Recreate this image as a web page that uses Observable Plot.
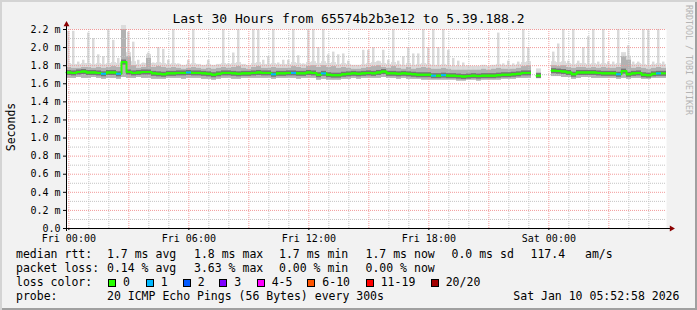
<!DOCTYPE html>
<html>
<head>
<meta charset="utf-8">
<script src="https://cdn.jsdelivr.net/npm/d3@7"></script>
<script src="https://cdn.jsdelivr.net/npm/@observablehq/plot@0.6"></script>
<style>
  body { margin: 0; background: #f2f2f2; }
  #wrap { position: relative; width: 697px; height: 310px; background: #f2f2f2; overflow: hidden;
          font-family: "DejaVu Sans Mono", monospace; color: #000;
          box-shadow: inset 2px 2px 0 #d4d4d4, inset -2px -2px 0 #a0a0a0; }
  #chart { position: absolute; left: 0; top: 0; }
  .t { position: absolute; white-space: pre; font-size: 11.5px; line-height: 14px; }
  .sq { position: absolute; width: 8px; height: 8px; box-sizing: border-box; border: 1px solid #000; }
</style>
</head>
<body>
<div id="wrap"><div id="chart"></div></div>
<script>
// ---------- data ----------
const title = "Last 30 Hours from 65574b2b3e12 to 5.39.188.2";
const yLabel = "Seconds";
const sideNote = "RRDTOOL / TOBI OETIKER";
// hours relative to Fri 00:00; graph spans Thu 23:52:58 .. Sat 05:52:58
const startHour = -7.05 / 60;
const endHour = startHour + 30;
const stepHours = 0.25; // one bucket = 15 minutes

// max ping (light smoke top), ms
const hi = [
  2.18,2.18,1.84,1.86,2.16,2.10,1.92,1.90,2.20,2.08,
  1.88,2.20,2.17,2.06,1.86,1.83,1.94,1.83,2.00,1.98,
  1.86,2.20,1.82,1.80,1.86,2.20,1.80,1.80,1.86,1.80,
  1.80,2.20,1.82,1.94,2.20,1.80,1.80,2.20,2.20,1.86,
  1.90,2.20,1.83,1.86,1.86,2.20,1.91,1.82,2.20,2.20,
  2.00,2.20,1.92,1.95,1.92,1.93,1.85,1.80,1.80,1.97,
  1.97,2.00,1.85,1.97,1.86,2.20,1.85,1.90,2.00,1.93,
  1.93,2.20,2.00,2.20,2.00,2.20,1.97,1.88,1.85,1.83,
  1.80,1.78,1.78,1.80,1.78,1.80,2.16,1.82,1.85,1.82,
  1.84,2.20,2.00,null,1.74,null,null,1.95,2.04,2.20,
  1.85,2.20,1.85,2.00,2.12,2.20,1.84,2.20,1.84,1.84,
  2.20,1.92,2.02,1.84,1.84,2.20,2.20,1.84,2.20,1.84
];
// upper dense smoke top, ms
const up = [
  1.78,1.77,1.77,1.78,1.78,1.77,1.78,1.77,1.78,1.79,
  1.78,2.20,1.90,1.80,1.77,1.78,1.88,1.78,1.79,1.78,
  1.77,1.78,1.77,1.76,1.77,1.78,1.77,1.76,1.77,1.76,
  1.77,1.78,1.77,1.78,1.79,1.77,1.76,1.78,1.79,1.77,
  1.77,1.78,1.77,1.77,1.77,1.79,1.78,1.77,1.79,1.80,
  1.78,1.80,1.78,1.79,1.77,1.78,1.77,1.76,1.76,1.77,
  1.78,1.79,1.80,1.78,1.77,1.79,1.77,1.76,1.78,1.76,
  1.77,1.78,1.77,1.76,1.76,1.77,1.76,1.75,1.75,1.75,
  1.75,1.75,1.75,1.76,1.75,1.76,1.77,1.76,1.76,1.76,
  1.77,1.79,1.80,null,1.72,null,null,1.80,1.79,1.80,
  1.78,1.77,1.78,1.78,1.77,1.78,1.77,1.78,1.77,1.77,
  1.78,1.90,1.86,1.77,1.78,1.77,1.76,1.77,1.78,1.77
];
// min ping (smoke bottom), ms
const lo = [
  1.66,1.66,1.67,1.66,1.66,1.67,1.66,1.65,1.66,1.66,
  1.65,1.67,1.66,1.66,1.67,1.66,1.66,1.65,1.65,1.65,
  1.66,1.66,1.66,1.65,1.66,1.66,1.66,1.65,1.65,1.64,
  1.65,1.66,1.66,1.65,1.65,1.66,1.66,1.66,1.66,1.66,
  1.66,1.65,1.66,1.66,1.66,1.66,1.65,1.66,1.66,1.66,
  1.64,1.65,1.64,1.64,1.64,1.65,1.65,1.66,1.65,1.66,
  1.66,1.66,1.66,1.67,1.66,1.66,1.65,1.66,1.65,1.65,
  1.65,1.64,1.64,1.64,1.64,1.64,1.64,1.64,1.63,1.63,
  1.64,1.64,1.63,1.64,1.64,1.64,1.64,1.65,1.65,1.65,
  1.66,1.66,1.66,null,1.67,null,null,1.68,1.68,1.67,
  1.67,1.65,1.66,1.67,1.67,1.66,1.66,1.66,1.66,1.66,
  1.65,1.66,1.65,1.66,1.66,1.65,1.65,1.66,1.66,1.66
];
// median rtt, ms
const med = [
  1.725,1.72,1.73,1.735,1.725,1.725,1.72,1.71,1.725,1.725,
  1.71,1.84,1.73,1.72,1.725,1.73,1.73,1.715,1.71,1.705,
  1.715,1.715,1.72,1.72,1.725,1.72,1.72,1.715,1.71,1.70,
  1.71,1.72,1.72,1.715,1.71,1.715,1.715,1.72,1.725,1.72,
  1.72,1.705,1.715,1.715,1.72,1.72,1.715,1.715,1.725,1.72,
  1.70,1.715,1.70,1.695,1.695,1.705,1.71,1.715,1.71,1.715,
  1.72,1.715,1.725,1.735,1.715,1.715,1.71,1.715,1.71,1.705,
  1.70,1.70,1.70,1.69,1.69,1.695,1.69,1.69,1.685,1.68,
  1.685,1.69,1.685,1.69,1.69,1.69,1.695,1.70,1.70,1.705,
  1.71,1.72,1.72,null,1.69,null,null,1.745,1.74,1.735,
  1.725,1.705,1.725,1.725,1.725,1.725,1.72,1.715,1.715,1.715,
  1.705,1.74,1.705,1.715,1.72,1.70,1.695,1.71,1.715,1.715
];
// lost pings out of 20
const loss = [
  0,0,0,0,0,0,0,1,0,0,
  1,0,0,0,0,0,0,0,0,0,
  0,0,0,0,1,0,0,0,0,0,
  0,0,0,0,0,0,0,0,0,0,
  0,1,0,0,0,1,0,0,0,0,
  0,1,0,0,0,0,0,0,0,0,
  0,0,0,0,0,0,0,0,0,0,
  0,0,0,1,0,1,0,0,0,0,
  0,0,0,0,0,0,0,0,0,0,
  0,0,0,null,0,null,null,0,0,0,
  0,0,0,0,0,0,0,0,0,0,
  1,0,0,0,0,0,0,0,1,0
];

const yTicks = [0, 0.2, 0.4, 0.6, 0.8, 1.0, 1.2, 1.4, 1.6, 1.8, 2.0, 2.2];
const yTickLabels = ["0.0","0.2 m","0.4 m","0.6 m","0.8 m","1.0 m","1.2 m","1.4 m","1.6 m","1.8 m","2.0 m","2.2 m"];
const xTicks = [0, 6, 12, 18, 24];
const xTickLabels = ["Fri 00:00","Fri 06:00","Fri 12:00","Fri 18:00","Sat 00:00"];

const lossLabels = ["0","1","2","3","4-5","6-10","11-19","20/20"];
const lossColors = ["#26ff00","#00b8ff","#0059ff","#7e00ff","#ff00ff","#ff5500","#ff0000","#a10000"];

const rttStats = ["median rtt:","1.7 ms avg","1.8 ms max","1.7 ms min","1.7 ms now","0.0 ms sd","117.4","am/s"];
const lossStats = ["packet loss:","0.14 % avg","3.63 % max","0.00 % min","0.00 % now"];
const lossColorTitle = "loss color:";
const probeStats = ["probe:","20 ICMP Echo Pings (56 Bytes) every 300s","Sat Jan 10 05:52:58 2026"];

// ---------- layout (positions only) ----------
const statX = [16, 107, 194, 279, 365.5, 451.5, 530.5, 585];
const probeX = [16, 107, 513.3];
const swatchX = [108, 145.7, 182.7, 219.3, 256.7, 307.3, 365.7, 430.7];
const rowTop = [247, 261, 275, 289];

// ---------- build ----------
function lossClass(n) {
  if (n <= 3) return n;
  if (n <= 5) return 4;
  if (n <= 10) return 5;
  if (n < 20) return 6;
  return 7;
}
const rows = med.map((m, i) => ({
  t0: startHour + i * stepHours,
  t1: startHour + (i + 1) * stepHours,
  med: m, lo: lo[i], up: up[i], hi: hi[i], loss: loss[i]
}));
const valid = rows.filter(d => d.med != null);

const minorY = d3.range(1, 22, 2).map(k => k / 10);
const majorY = yTicks.slice(1);
const minorX = d3.range(1, 30).filter(h => h % 3 !== 0);
const majorX = d3.range(3, 30, 3);

const chart = Plot.plot({
  width: 697, height: 245,
  marginLeft: 66, marginRight: 31, marginTop: 29, marginBottom: 17,
  x: { type: "linear", domain: [startHour, endHour], axis: null },
  y: { domain: [0, 2.2], axis: null },
  style: { background: "transparent", fontFamily: "DejaVu Sans Mono", fontSize: "10px", color: "#000", overflow: "visible" },
  marks: [
    Plot.frame({ fill: "#ffffff", stroke: null }),
    // continuous light smoke just above the dense band
    Plot.rect(valid, { x1: "t0", x2: "t1", y1: "lo", y2: "up", fill: "#dcdcdc", insetTop: -4 }),
    // individual max-ping spikes (narrow)
    Plot.rect(valid, { x1: "t0", x2: "t1", y1: "lo", y2: "hi", fill: "#d9d9d9", insetLeft: 1, insetRight: 1.5 }),
    // dense smoke
    Plot.rect(valid, { x1: "t0", x2: "t1", y1: "lo", y2: "up", fill: "#b2b2b2" }),
    Plot.ruleY(minorY, { stroke: "#c4c4c4", strokeDasharray: "1,1" }),
    Plot.ruleX(minorX, { stroke: "#c4c4c4", strokeDasharray: "1,1" }),
    Plot.ruleY(majorY, { stroke: "#f29a9a", strokeDasharray: "1,1" }),
    Plot.ruleX(majorX, { stroke: "#f29a9a", strokeDasharray: "1,1" }),
    Plot.ruleX([0], { stroke: "#f29a9a", strokeDasharray: "1,1" }),
    Plot.ruleY(valid, { y: "med", x1: "t0", x2: "t1", stroke: "#6a6a6a", strokeWidth: 5, strokeOpacity: 0.85 }),
    Plot.line(rows, { x: "t0", y: "med", curve: "step-after", stroke: lossColors[0], strokeWidth: 2 }),
    Plot.ruleY(valid, { y: "med", x1: "t0", x2: "t1", stroke: d => lossColors[lossClass(d.loss)], strokeWidth: 2 }),
    Plot.ruleY([0], { stroke: "#000", insetLeft: -3, insetRight: -4 }),
    Plot.ruleX([startHour], { stroke: "#000", insetTop: -4, insetBottom: -3 }),
    Plot.dot([[endHour, 0]], { x: d => d[0], y: d => d[1], symbol: "triangle", rotate: 90, r: 2.2, fill: "#8b0000", stroke: null, dx: 5 }),
    Plot.dot([[startHour, 2.2]], { x: d => d[0], y: d => d[1], symbol: "triangle", r: 2.2, fill: "#8b0000", stroke: null, dy: -5 }),
    Plot.axisY(yTicks, { tickFormat: d => yTickLabels[yTicks.indexOf(d)], tickSize: 3, tickPadding: 3, fontSize: 10, stroke: "#000", fill: "#000" }),
    Plot.axisX(xTicks, { tickFormat: d => xTickLabels[xTicks.indexOf(d)], tickSize: 2, tickPadding: 4, fontSize: 10, stroke: "#000", fill: "#000" })
  ]
});
document.getElementById("chart").appendChild(chart);

const wrap = document.getElementById("wrap");
function addText(txt, x, y, extra) {
  const s = document.createElement("div");
  s.className = "t";
  s.textContent = txt;
  s.style.left = x + "px";
  s.style.top = y + "px";
  if (extra) Object.assign(s.style, extra);
  wrap.appendChild(s);
  return s;
}
// title
addText(title, 0, 12.3, { width: "697px", textAlign: "center", fontSize: "13px", lineHeight: "13px" });
// y label
addText(yLabel, 11, 126.5, { transform: "translate(-50%,-50%) rotate(-90deg)" });
// side note
addText(sideNote, 683.5, 5, { writingMode: "vertical-rl", fontSize: "8.3px", lineHeight: "9px", color: "#b4b4b4" });
// stats
rttStats.forEach((t, i) => addText(t, statX[i], rowTop[0]));
lossStats.forEach((t, i) => addText(t, statX[i], rowTop[1]));
addText(lossColorTitle, statX[0], rowTop[2]);
lossLabels.forEach((t, i) => {
  const b = document.createElement("div");
  b.className = "sq";
  b.style.left = swatchX[i] + "px";
  b.style.top = (rowTop[2] + 4) + "px";
  b.style.background = lossColors[i];
  wrap.appendChild(b);
  addText(t, swatchX[i] + 15, rowTop[2]);
});
probeStats.forEach((t, i) => addText(t, probeX[i], rowTop[3]));
</script>
</body>
</html>
